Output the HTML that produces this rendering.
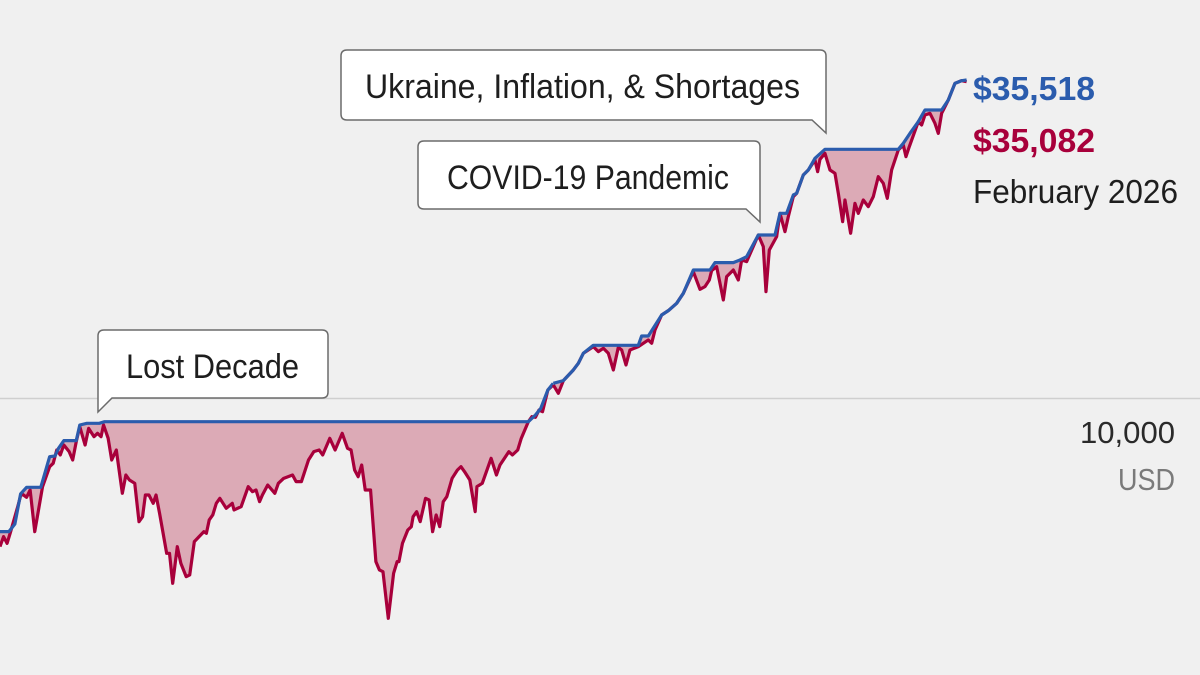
<!DOCTYPE html>
<html><head><meta charset="utf-8"><style>
html,body{margin:0;padding:0;background:#f0f0f0;}
svg{display:block;}
text{font-family:"Liberation Sans Narrow","Liberation Sans",sans-serif;}
</style></head><body>
<svg width="1200" height="675" viewBox="0 0 1200 675" xmlns="http://www.w3.org/2000/svg">
<rect width="1200" height="675" fill="#f0f0f0"/>
<line x1="0" y1="398.5" x2="1200" y2="398.5" stroke="#cfcfcf" stroke-width="1.5"/>

<!-- segment 1 -->
<g transform="translate(0,380) scale(0.3546,0.3333)">
<polygon fill="#dcaab6" points="0,455 25,455 42,432 58,342 75,322 115,322 140,230 155,228 165,205 180,182 215,182 225,135 245,130 280,130 295,125 1490,125 1510,105 1525,85 1545,30 1560,10 1560,15 1545,30 1530,95 1520,90 1510,112 1500,110 1490,125 1470,175 1460,210 1445,225 1435,215 1410,255 1400,285 1385,235 1360,310 1345,320 1340,395 1325,300 1310,275 1300,260 1290,270 1275,295 1260,350 1250,365 1240,440 1230,405 1220,455 1210,360 1200,355 1185,425 1175,395 1165,410 1160,440 1150,450 1135,490 1125,545 1120,545 1110,580 1095,715 1080,575 1070,570 1060,545 1045,330 1030,330 1020,255 1010,290 1000,270 990,210 980,205 965,160 945,210 930,175 910,225 900,210 885,215 870,240 850,305 835,305 825,285 800,295 785,310 775,340 755,315 740,345 732,365 722,330 712,335 700,320 680,380 660,390 655,370 638,385 620,355 610,370 600,405 590,420 582,460 575,455 548,485 535,585 525,590 510,550 500,500 487,610 478,520 470,520 450,400 440,345 432,370 420,345 410,345 402,410 392,425 380,310 365,300 355,285 345,340 328,210 315,240 305,175 292,135 285,170 275,160 265,170 250,145 240,195 225,140 215,185 205,240 195,215 180,195 170,225 160,210 150,250 140,260 120,320 98,455 85,330 75,352 60,340 50,380 30,455 20,490 10,470 0,500"/>
<polyline fill="none" stroke="#a8003b" stroke-width="3.2" stroke-linejoin="round" vector-effect="non-scaling-stroke" points="0,500 10,470 20,490 30,455 50,380 60,340 75,352 85,330 98,455 120,320 140,260 150,250 160,210 170,225 180,195 195,215 205,240 215,185 225,140 240,195 250,145 265,170 275,160 285,170 292,135 305,175 315,240 328,210 345,340 355,285 365,300 380,310 392,425 402,410 410,345 420,345 432,370 440,345 450,400 470,520 478,520 487,610 500,500 510,550 525,590 535,585 548,485 575,455 582,460 590,420 600,405 610,370 620,355 638,385 655,370 660,390 680,380 700,320 712,335 722,330 732,365 740,345 755,315 775,340 785,310 800,295 825,285 835,305 850,305 870,240 885,215 900,210 910,225 930,175 945,210 965,160 980,205 990,210 1000,270 1010,290 1020,255 1030,330 1045,330 1060,545 1070,570 1080,575 1095,715 1110,580 1120,545 1125,545 1135,490 1150,450 1160,440 1165,410 1175,395 1185,425 1200,355 1210,360 1220,455 1230,405 1240,440 1250,365 1260,350 1275,295 1290,270 1300,260 1310,275 1325,300 1340,395 1345,320 1360,310 1385,235 1400,285 1410,255 1435,215 1445,225 1460,210 1470,175 1490,125 1500,110 1510,112 1520,90 1530,95 1545,30 1560,15"/>
<polyline fill="none" stroke="#2b5cad" stroke-width="3.2" stroke-linejoin="round" vector-effect="non-scaling-stroke" points="0,455 25,455 42,432 58,342 75,322 115,322 140,230 155,228 165,205 180,182 215,182 225,135 245,130 280,130 295,125 1490,125 1510,105 1525,85 1545,30 1560,10"/>
</g>

<!-- segment 2 -->
<g transform="translate(520,60) scale(0.3333)">
<polygon fill="#dcaab6" points="100,970 130,962 160,930 175,910 190,880 220,856 355,856 365,828 385,828 425,765 445,752 470,730 490,700 520,630 570,630 585,608 640,608 660,600 680,590 715,525 765,525 780,460 800,460 820,405 830,400 850,345 865,330 885,295 915,268 1135,268 1150,250 1170,220 1195,185 1215,150 1265,150 1285,120 1305,70 1325,62 1340,60 1340,65 1325,62 1305,70 1285,120 1270,150 1265,160 1255,220 1245,190 1230,160 1215,165 1205,195 1195,185 1168,260 1158,290 1150,255 1135,270 1115,330 1102,415 1090,370 1075,350 1060,410 1045,440 1030,420 1015,460 1005,430 992,520 975,420 968,485 955,400 945,340 930,330 915,280 900,298 893,335 885,300 865,330 850,345 830,400 820,410 805,470 795,515 780,460 770,530 748,570 738,695 730,560 715,525 680,605 665,600 655,660 640,630 620,650 610,720 598,660 590,620 575,632 568,660 555,680 540,688 520,635 490,700 470,730 445,752 425,765 405,810 395,850 385,840 355,860 330,870 318,915 305,870 295,862 280,930 265,880 250,865 235,875 220,860 190,880 175,910 160,930 130,962 125,975 115,1000 100,975"/>
<polyline fill="none" stroke="#a8003b" stroke-width="3.2" stroke-linejoin="round" vector-effect="non-scaling-stroke" points="100,975 115,1000 125,975 130,962 160,930 175,910 190,880 220,860 235,875 250,865 265,880 280,930 295,862 305,870 318,915 330,870 355,860 385,840 395,850 405,810 425,765 445,752 470,730 490,700 520,635 540,688 555,680 568,660 575,632 590,620 598,660 610,720 620,650 640,630 655,660 665,600 680,605 715,525 730,560 738,695 748,570 770,530 780,460 795,515 805,470 820,410 830,400 850,345 865,330 885,300 893,335 900,298 915,280 930,330 945,340 955,400 968,485 975,420 992,520 1005,430 1015,460 1030,420 1045,440 1060,410 1075,350 1090,370 1102,415 1115,330 1135,270 1150,255 1158,290 1168,260 1195,185 1205,195 1215,165 1230,160 1245,190 1255,220 1265,160 1270,150 1285,120 1305,70 1325,62 1340,65"/>
<polyline fill="none" stroke="#2b5cad" stroke-width="3.2" stroke-linejoin="round" vector-effect="non-scaling-stroke" points="100,970 130,962 160,930 175,910 190,880 220,856 355,856 365,828 385,828 425,765 445,752 470,730 490,700 520,630 570,630 585,608 640,608 660,600 680,590 715,525 765,525 780,460 800,460 820,405 830,400 850,345 865,330 885,295 915,268 1135,268 1150,250 1170,220 1195,185 1215,150 1265,150 1285,120 1305,70 1325,62 1340,60"/>
</g>

<!-- callouts -->
<path d="M347,50 H820 Q826,50 826,56 V133 L812,120 H347 Q341,120 341,114 V56 Q341,50 347,50 Z" fill="#fff" stroke="#6b6b6b" stroke-width="1.5"/>
<text x="365" y="98" font-size="34" fill="#1e1e1e" textLength="435" lengthAdjust="spacingAndGlyphs">Ukraine, Inflation, &amp; Shortages</text>
<path d="M424,141 H754 Q760,141 760,147 V222 L746,209 H424 Q418,209 418,203 V147 Q418,141 424,141 Z" fill="#fff" stroke="#6b6b6b" stroke-width="1.5"/>
<text x="447" y="189" font-size="34" fill="#1e1e1e" textLength="282" lengthAdjust="spacingAndGlyphs">COVID-19 Pandemic</text>
<path d="M104,330 H322 Q328,330 328,336 V392 Q328,398 322,398 H112 L98,412 V336 Q98,330 104,330 Z" fill="#fff" stroke="#6b6b6b" stroke-width="1.5"/>
<text x="126" y="378" font-size="34" fill="#1e1e1e" textLength="173" lengthAdjust="spacingAndGlyphs">Lost Decade</text>

<!-- right labels -->
<text x="973" y="100" font-size="33" font-weight="bold" fill="#2b5cad" textLength="122" lengthAdjust="spacingAndGlyphs">$35,518</text>
<text x="973" y="152" font-size="33" font-weight="bold" fill="#a8003b" textLength="122" lengthAdjust="spacingAndGlyphs">$35,082</text>
<text x="973" y="203" font-size="33" fill="#1e1e1e" textLength="205" lengthAdjust="spacingAndGlyphs">February 2026</text>
<text x="1175" y="443" font-size="31" fill="#2a2a2a" text-anchor="end" textLength="95" lengthAdjust="spacingAndGlyphs">10,000</text>
<text x="1175" y="490" font-size="31" fill="#7a7a7a" text-anchor="end" textLength="57" lengthAdjust="spacingAndGlyphs">USD</text>
</svg>
</body></html>
